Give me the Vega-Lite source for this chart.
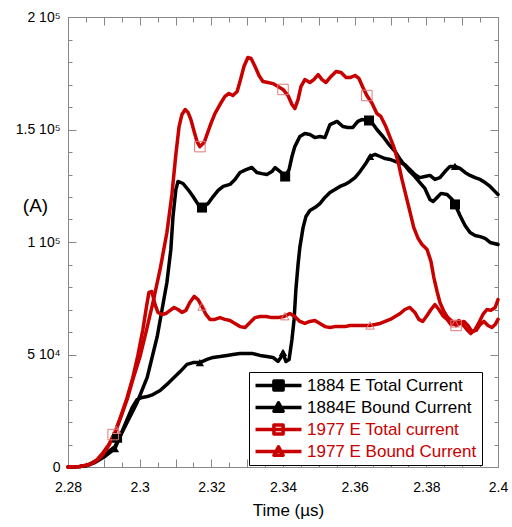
{
  "$schema": "https://vega.github.io/schema/vega-lite/v6.json",
  "autosize": "none",
  "padding": {"left": 68, "top": 17, "right": 14, "bottom": 60},
  "width": 430,
  "height": 450,
  "background": "white",
  "config": {
    "font": "Liberation Sans",
    "view": {"stroke": "#888", "strokeWidth": 1},
    "axis": {"domainColor": "#888", "tickColor": "#888", "labelColor": "black", "titleColor": "black", "grid": false}
  },
  "datasets": {
    "curves": [
      {"series": "1884 E Total Current", "t": 2.28, "current": 0},
      {"series": "1884 E Total Current", "t": 2.2833, "current": 200},
      {"series": "1884 E Total Current", "t": 2.2853, "current": 700},
      {"series": "1884 E Total Current", "t": 2.2875, "current": 2400},
      {"series": "1884 E Total Current", "t": 2.2903, "current": 5600},
      {"series": "1884 E Total Current", "t": 2.2931, "current": 9100},
      {"series": "1884 E Total Current", "t": 2.2962, "current": 18900},
      {"series": "1884 E Total Current", "t": 2.2993, "current": 28700},
      {"series": "1884 E Total Current", "t": 2.3021, "current": 39800},
      {"series": "1884 E Total Current", "t": 2.3049, "current": 58000},
      {"series": "1884 E Total Current", "t": 2.3065, "current": 72200},
      {"series": "1884 E Total Current", "t": 2.3076, "current": 82000},
      {"series": "1884 E Total Current", "t": 2.3087, "current": 96700},
      {"series": "1884 E Total Current", "t": 2.3093, "current": 111300},
      {"series": "1884 E Total Current", "t": 2.3101, "current": 123300},
      {"series": "1884 E Total Current", "t": 2.3107, "current": 126900},
      {"series": "1884 E Total Current", "t": 2.3121, "current": 126000},
      {"series": "1884 E Total Current", "t": 2.3135, "current": 123300},
      {"series": "1884 E Total Current", "t": 2.3149, "current": 120200},
      {"series": "1884 E Total Current", "t": 2.3163, "current": 116700},
      {"series": "1884 E Total Current", "t": 2.3174, "current": 115300},
      {"series": "1884 E Total Current", "t": 2.3191, "current": 117100},
      {"series": "1884 E Total Current", "t": 2.3205, "current": 120200},
      {"series": "1884 E Total Current", "t": 2.3219, "current": 122900},
      {"series": "1884 E Total Current", "t": 2.3233, "current": 124700},
      {"series": "1884 E Total Current", "t": 2.3252, "current": 125600},
      {"series": "1884 E Total Current", "t": 2.3266, "current": 127800},
      {"series": "1884 E Total Current", "t": 2.328, "current": 130900},
      {"series": "1884 E Total Current", "t": 2.3297, "current": 132200},
      {"series": "1884 E Total Current", "t": 2.3313, "current": 133100},
      {"series": "1884 E Total Current", "t": 2.3327, "current": 130900},
      {"series": "1884 E Total Current", "t": 2.3341, "current": 130400},
      {"series": "1884 E Total Current", "t": 2.3355, "current": 130000},
      {"series": "1884 E Total Current", "t": 2.3369, "current": 131300},
      {"series": "1884 E Total Current", "t": 2.3378, "current": 133100},
      {"series": "1884 E Total Current", "t": 2.3392, "current": 131300},
      {"series": "1884 E Total Current", "t": 2.3406, "current": 129100},
      {"series": "1884 E Total Current", "t": 2.3417, "current": 132200},
      {"series": "1884 E Total Current", "t": 2.3425, "current": 138000},
      {"series": "1884 E Total Current", "t": 2.3433, "current": 142400},
      {"series": "1884 E Total Current", "t": 2.3447, "current": 146900},
      {"series": "1884 E Total Current", "t": 2.3461, "current": 148200},
      {"series": "1884 E Total Current", "t": 2.3475, "current": 147800},
      {"series": "1884 E Total Current", "t": 2.3489, "current": 146400},
      {"series": "1884 E Total Current", "t": 2.3503, "current": 146900},
      {"series": "1884 E Total Current", "t": 2.3517, "current": 146400},
      {"series": "1884 E Total Current", "t": 2.3531, "current": 152200},
      {"series": "1884 E Total Current", "t": 2.3551, "current": 153600},
      {"series": "1884 E Total Current", "t": 2.3567, "current": 151300},
      {"series": "1884 E Total Current", "t": 2.3581, "current": 150900},
      {"series": "1884 E Total Current", "t": 2.3595, "current": 150900},
      {"series": "1884 E Total Current", "t": 2.3609, "current": 153600},
      {"series": "1884 E Total Current", "t": 2.362, "current": 154400},
      {"series": "1884 E Total Current", "t": 2.3637, "current": 154000},
      {"series": "1884 E Total Current", "t": 2.3648, "current": 153100},
      {"series": "1884 E Total Current", "t": 2.3662, "current": 150000},
      {"series": "1884 E Total Current", "t": 2.3679, "current": 146900},
      {"series": "1884 E Total Current", "t": 2.3696, "current": 143300},
      {"series": "1884 E Total Current", "t": 2.3713, "current": 140200},
      {"series": "1884 E Total Current", "t": 2.3727, "current": 136700},
      {"series": "1884 E Total Current", "t": 2.374, "current": 134000},
      {"series": "1884 E Total Current", "t": 2.3754, "current": 131300},
      {"series": "1884 E Total Current", "t": 2.3768, "current": 129100},
      {"series": "1884 E Total Current", "t": 2.3782, "current": 126400},
      {"series": "1884 E Total Current", "t": 2.3796, "current": 123800},
      {"series": "1884 E Total Current", "t": 2.381, "current": 118900},
      {"series": "1884 E Total Current", "t": 2.3819, "current": 118000},
      {"series": "1884 E Total Current", "t": 2.383, "current": 119800},
      {"series": "1884 E Total Current", "t": 2.3841, "current": 121600},
      {"series": "1884 E Total Current", "t": 2.3858, "current": 121100},
      {"series": "1884 E Total Current", "t": 2.3872, "current": 118900},
      {"series": "1884 E Total Current", "t": 2.388, "current": 116700},
      {"series": "1884 E Total Current", "t": 2.3894, "current": 111800},
      {"series": "1884 E Total Current", "t": 2.3908, "current": 107300},
      {"series": "1884 E Total Current", "t": 2.3922, "current": 104200},
      {"series": "1884 E Total Current", "t": 2.3936, "current": 102900},
      {"series": "1884 E Total Current", "t": 2.395, "current": 102400},
      {"series": "1884 E Total Current", "t": 2.3964, "current": 101600},
      {"series": "1884 E Total Current", "t": 2.3978, "current": 99800},
      {"series": "1884 E Total Current", "t": 2.4, "current": 98900},

      {"series": "1884E Bound Current", "t": 2.28, "current": 0},
      {"series": "1884E Bound Current", "t": 2.2833, "current": 200},
      {"series": "1884E Bound Current", "t": 2.2853, "current": 700},
      {"series": "1884E Bound Current", "t": 2.2875, "current": 2000},
      {"series": "1884E Bound Current", "t": 2.2903, "current": 4700},
      {"series": "1884E Bound Current", "t": 2.2931, "current": 8200},
      {"series": "1884E Bound Current", "t": 2.2951, "current": 15800},
      {"series": "1884E Bound Current", "t": 2.2965, "current": 21100},
      {"series": "1884E Bound Current", "t": 2.2979, "current": 26400},
      {"series": "1884E Bound Current", "t": 2.2993, "current": 30000},
      {"series": "1884E Bound Current", "t": 2.3007, "current": 30900},
      {"series": "1884E Bound Current", "t": 2.3021, "current": 31300},
      {"series": "1884E Bound Current", "t": 2.3037, "current": 32200},
      {"series": "1884E Bound Current", "t": 2.3057, "current": 34000},
      {"series": "1884E Bound Current", "t": 2.3076, "current": 36700},
      {"series": "1884E Bound Current", "t": 2.3093, "current": 39300},
      {"series": "1884E Bound Current", "t": 2.3113, "current": 42400},
      {"series": "1884E Bound Current", "t": 2.3132, "current": 45600},
      {"series": "1884E Bound Current", "t": 2.3149, "current": 46400},
      {"series": "1884E Bound Current", "t": 2.3168, "current": 46400},
      {"series": "1884E Bound Current", "t": 2.3188, "current": 47800},
      {"series": "1884E Bound Current", "t": 2.3205, "current": 48700},
      {"series": "1884E Bound Current", "t": 2.3224, "current": 49100},
      {"series": "1884E Bound Current", "t": 2.3244, "current": 49600},
      {"series": "1884E Bound Current", "t": 2.326, "current": 50000},
      {"series": "1884E Bound Current", "t": 2.328, "current": 50400},
      {"series": "1884E Bound Current", "t": 2.3299, "current": 50400},
      {"series": "1884E Bound Current", "t": 2.3316, "current": 50400},
      {"series": "1884E Bound Current", "t": 2.3336, "current": 49600},
      {"series": "1884E Bound Current", "t": 2.3355, "current": 49100},
      {"series": "1884E Bound Current", "t": 2.3372, "current": 48700},
      {"series": "1884E Bound Current", "t": 2.3386, "current": 46900},
      {"series": "1884E Bound Current", "t": 2.3394, "current": 48700},
      {"series": "1884E Bound Current", "t": 2.34, "current": 50900},
      {"series": "1884E Bound Current", "t": 2.3408, "current": 46900},
      {"series": "1884E Bound Current", "t": 2.3417, "current": 47800},
      {"series": "1884E Bound Current", "t": 2.3425, "current": 56700},
      {"series": "1884E Bound Current", "t": 2.3431, "current": 65600},
      {"series": "1884E Bound Current", "t": 2.3436, "current": 78900},
      {"series": "1884E Bound Current", "t": 2.3442, "current": 90000},
      {"series": "1884E Bound Current", "t": 2.3447, "current": 97600},
      {"series": "1884E Bound Current", "t": 2.3456, "current": 106400},
      {"series": "1884E Bound Current", "t": 2.3464, "current": 111300},
      {"series": "1884E Bound Current", "t": 2.3475, "current": 114000},
      {"series": "1884E Bound Current", "t": 2.3489, "current": 115300},
      {"series": "1884E Bound Current", "t": 2.3503, "current": 117100},
      {"series": "1884E Bound Current", "t": 2.3517, "current": 119800},
      {"series": "1884E Bound Current", "t": 2.3531, "current": 122000},
      {"series": "1884E Bound Current", "t": 2.3545, "current": 123300},
      {"series": "1884E Bound Current", "t": 2.3559, "current": 124700},
      {"series": "1884E Bound Current", "t": 2.3573, "current": 125600},
      {"series": "1884E Bound Current", "t": 2.3587, "current": 126900},
      {"series": "1884E Bound Current", "t": 2.3601, "current": 128600},
      {"series": "1884E Bound Current", "t": 2.3615, "current": 131300},
      {"series": "1884E Bound Current", "t": 2.3629, "current": 134400},
      {"series": "1884E Bound Current", "t": 2.3643, "current": 138000},
      {"series": "1884E Bound Current", "t": 2.3657, "current": 138900},
      {"series": "1884E Bound Current", "t": 2.3671, "current": 138000},
      {"series": "1884E Bound Current", "t": 2.3685, "current": 137100},
      {"series": "1884E Bound Current", "t": 2.3699, "current": 136700},
      {"series": "1884E Bound Current", "t": 2.3713, "current": 135800},
      {"series": "1884E Bound Current", "t": 2.3727, "current": 135300},
      {"series": "1884E Bound Current", "t": 2.374, "current": 134400},
      {"series": "1884E Bound Current", "t": 2.3754, "current": 132200},
      {"series": "1884E Bound Current", "t": 2.3768, "current": 130000},
      {"series": "1884E Bound Current", "t": 2.3782, "current": 128600},
      {"series": "1884E Bound Current", "t": 2.3796, "current": 129100},
      {"series": "1884E Bound Current", "t": 2.381, "current": 129600},
      {"series": "1884E Bound Current", "t": 2.3824, "current": 127800},
      {"series": "1884E Bound Current", "t": 2.3838, "current": 128600},
      {"series": "1884E Bound Current", "t": 2.3852, "current": 131300},
      {"series": "1884E Bound Current", "t": 2.3866, "current": 133600},
      {"series": "1884E Bound Current", "t": 2.388, "current": 133600},
      {"series": "1884E Bound Current", "t": 2.3894, "current": 132700},
      {"series": "1884E Bound Current", "t": 2.3908, "current": 130900},
      {"series": "1884E Bound Current", "t": 2.3922, "current": 129600},
      {"series": "1884E Bound Current", "t": 2.3936, "current": 128600},
      {"series": "1884E Bound Current", "t": 2.395, "current": 127800},
      {"series": "1884E Bound Current", "t": 2.3964, "current": 126400},
      {"series": "1884E Bound Current", "t": 2.3978, "current": 124700},
      {"series": "1884E Bound Current", "t": 2.3992, "current": 122400},
      {"series": "1884E Bound Current", "t": 2.4, "current": 121100},

      {"series": "1977 E Total current", "t": 2.28, "current": 0},
      {"series": "1977 E Total current", "t": 2.2833, "current": 200},
      {"series": "1977 E Total current", "t": 2.2861, "current": 1100},
      {"series": "1977 E Total current", "t": 2.2881, "current": 3300},
      {"series": "1977 E Total current", "t": 2.2898, "current": 6400},
      {"series": "1977 E Total current", "t": 2.2914, "current": 10000},
      {"series": "1977 E Total current", "t": 2.2931, "current": 15300},
      {"series": "1977 E Total current", "t": 2.2948, "current": 22400},
      {"series": "1977 E Total current", "t": 2.2965, "current": 30000},
      {"series": "1977 E Total current", "t": 2.2981, "current": 38900},
      {"series": "1977 E Total current", "t": 2.3001, "current": 49100},
      {"series": "1977 E Total current", "t": 2.3018, "current": 60200},
      {"series": "1977 E Total current", "t": 2.3037, "current": 73100},
      {"series": "1977 E Total current", "t": 2.3057, "current": 87800},
      {"series": "1977 E Total current", "t": 2.3076, "current": 104200},
      {"series": "1977 E Total current", "t": 2.309, "current": 121100},
      {"series": "1977 E Total current", "t": 2.3101, "current": 138900},
      {"series": "1977 E Total current", "t": 2.311, "current": 151300},
      {"series": "1977 E Total current", "t": 2.3118, "current": 156700},
      {"series": "1977 E Total current", "t": 2.3127, "current": 158900},
      {"series": "1977 E Total current", "t": 2.3135, "current": 157600},
      {"series": "1977 E Total current", "t": 2.3143, "current": 154400},
      {"series": "1977 E Total current", "t": 2.3152, "current": 149100},
      {"series": "1977 E Total current", "t": 2.316, "current": 144700},
      {"series": "1977 E Total current", "t": 2.3168, "current": 142400},
      {"series": "1977 E Total current", "t": 2.318, "current": 144200},
      {"series": "1977 E Total current", "t": 2.3188, "current": 147800},
      {"series": "1977 E Total current", "t": 2.3199, "current": 152700},
      {"series": "1977 E Total current", "t": 2.321, "current": 157100},
      {"series": "1977 E Total current", "t": 2.3224, "current": 161100},
      {"series": "1977 E Total current", "t": 2.3238, "current": 164700},
      {"series": "1977 E Total current", "t": 2.3249, "current": 166000},
      {"series": "1977 E Total current", "t": 2.326, "current": 165100},
      {"series": "1977 E Total current", "t": 2.3272, "current": 166900},
      {"series": "1977 E Total current", "t": 2.328, "current": 171300},
      {"series": "1977 E Total current", "t": 2.3291, "current": 178000},
      {"series": "1977 E Total current", "t": 2.3302, "current": 182000},
      {"series": "1977 E Total current", "t": 2.3311, "current": 181600},
      {"series": "1977 E Total current", "t": 2.3322, "current": 178000},
      {"series": "1977 E Total current", "t": 2.3333, "current": 174000},
      {"series": "1977 E Total current", "t": 2.3344, "current": 171300},
      {"series": "1977 E Total current", "t": 2.3358, "current": 170900},
      {"series": "1977 E Total current", "t": 2.3372, "current": 170400},
      {"series": "1977 E Total current", "t": 2.3386, "current": 169100},
      {"series": "1977 E Total current", "t": 2.34, "current": 167800},
      {"series": "1977 E Total current", "t": 2.3414, "current": 165100},
      {"series": "1977 E Total current", "t": 2.3425, "current": 161100},
      {"series": "1977 E Total current", "t": 2.3433, "current": 159300},
      {"series": "1977 E Total current", "t": 2.3442, "current": 163300},
      {"series": "1977 E Total current", "t": 2.345, "current": 169100},
      {"series": "1977 E Total current", "t": 2.3461, "current": 172200},
      {"series": "1977 E Total current", "t": 2.3475, "current": 170900},
      {"series": "1977 E Total current", "t": 2.3486, "current": 172200},
      {"series": "1977 E Total current", "t": 2.3498, "current": 174400},
      {"series": "1977 E Total current", "t": 2.3509, "current": 172200},
      {"series": "1977 E Total current", "t": 2.352, "current": 170900},
      {"series": "1977 E Total current", "t": 2.3534, "current": 173600},
      {"series": "1977 E Total current", "t": 2.3548, "current": 175800},
      {"series": "1977 E Total current", "t": 2.3562, "current": 175300},
      {"series": "1977 E Total current", "t": 2.3576, "current": 173100},
      {"series": "1977 E Total current", "t": 2.3587, "current": 173100},
      {"series": "1977 E Total current", "t": 2.3601, "current": 174000},
      {"series": "1977 E Total current", "t": 2.3612, "current": 172700},
      {"series": "1977 E Total current", "t": 2.3623, "current": 168700},
      {"series": "1977 E Total current", "t": 2.3634, "current": 165100},
      {"series": "1977 E Total current", "t": 2.3648, "current": 161800},
      {"series": "1977 E Total current", "t": 2.3662, "current": 157100},
      {"series": "1977 E Total current", "t": 2.3673, "current": 155800},
      {"series": "1977 E Total current", "t": 2.3687, "current": 151300},
      {"series": "1977 E Total current", "t": 2.3699, "current": 146400},
      {"series": "1977 E Total current", "t": 2.371, "current": 141900},
      {"series": "1977 E Total current", "t": 2.3721, "current": 135800},
      {"series": "1977 E Total current", "t": 2.3732, "current": 127800},
      {"series": "1977 E Total current", "t": 2.3743, "current": 120700},
      {"series": "1977 E Total current", "t": 2.3754, "current": 113600},
      {"series": "1977 E Total current", "t": 2.3765, "current": 106400},
      {"series": "1977 E Total current", "t": 2.3777, "current": 101600},
      {"series": "1977 E Total current", "t": 2.3788, "current": 98900},
      {"series": "1977 E Total current", "t": 2.3802, "current": 96700},
      {"series": "1977 E Total current", "t": 2.3813, "current": 91300},
      {"series": "1977 E Total current", "t": 2.3821, "current": 84200},
      {"series": "1977 E Total current", "t": 2.383, "current": 78000},
      {"series": "1977 E Total current", "t": 2.3838, "current": 73100},
      {"series": "1977 E Total current", "t": 2.3849, "current": 69100},
      {"series": "1977 E Total current", "t": 2.386, "current": 66400},
      {"series": "1977 E Total current", "t": 2.3872, "current": 64700},
      {"series": "1977 E Total current", "t": 2.3883, "current": 62900},
      {"series": "1977 E Total current", "t": 2.3894, "current": 63800},
      {"series": "1977 E Total current", "t": 2.3905, "current": 64700},
      {"series": "1977 E Total current", "t": 2.3916, "current": 62900},
      {"series": "1977 E Total current", "t": 2.3927, "current": 60200},
      {"series": "1977 E Total current", "t": 2.3939, "current": 60700},
      {"series": "1977 E Total current", "t": 2.395, "current": 63300},
      {"series": "1977 E Total current", "t": 2.3961, "current": 64700},
      {"series": "1977 E Total current", "t": 2.3972, "current": 62900},
      {"series": "1977 E Total current", "t": 2.3983, "current": 62000},
      {"series": "1977 E Total current", "t": 2.3992, "current": 63300},
      {"series": "1977 E Total current", "t": 2.4, "current": 65600},

      {"series": "1977 E Bound Current", "t": 2.28, "current": 0},
      {"series": "1977 E Bound Current", "t": 2.2833, "current": 200},
      {"series": "1977 E Bound Current", "t": 2.2861, "current": 1100},
      {"series": "1977 E Bound Current", "t": 2.2881, "current": 2900},
      {"series": "1977 E Bound Current", "t": 2.2898, "current": 5600},
      {"series": "1977 E Bound Current", "t": 2.2914, "current": 9600},
      {"series": "1977 E Bound Current", "t": 2.2931, "current": 15300},
      {"series": "1977 E Bound Current", "t": 2.2948, "current": 22900},
      {"series": "1977 E Bound Current", "t": 2.2965, "current": 30900},
      {"series": "1977 E Bound Current", "t": 2.2981, "current": 39800},
      {"series": "1977 E Bound Current", "t": 2.2995, "current": 49600},
      {"series": "1977 E Bound Current", "t": 2.3009, "current": 61100},
      {"series": "1977 E Bound Current", "t": 2.302, "current": 72200},
      {"series": "1977 E Bound Current", "t": 2.3026, "current": 77600},
      {"series": "1977 E Bound Current", "t": 2.3034, "current": 78000},
      {"series": "1977 E Bound Current", "t": 2.3043, "current": 72200},
      {"series": "1977 E Bound Current", "t": 2.3051, "current": 68700},
      {"series": "1977 E Bound Current", "t": 2.3062, "current": 67800},
      {"series": "1977 E Bound Current", "t": 2.3073, "current": 68200},
      {"series": "1977 E Bound Current", "t": 2.3085, "current": 69600},
      {"series": "1977 E Bound Current", "t": 2.3096, "current": 70900},
      {"series": "1977 E Bound Current", "t": 2.3107, "current": 70000},
      {"series": "1977 E Bound Current", "t": 2.3118, "current": 68700},
      {"series": "1977 E Bound Current", "t": 2.3129, "current": 69600},
      {"series": "1977 E Bound Current", "t": 2.314, "current": 73100},
      {"series": "1977 E Bound Current", "t": 2.3152, "current": 75800},
      {"series": "1977 E Bound Current", "t": 2.3163, "current": 74400},
      {"series": "1977 E Bound Current", "t": 2.3174, "current": 71300},
      {"series": "1977 E Bound Current", "t": 2.3185, "current": 67800},
      {"series": "1977 E Bound Current", "t": 2.3196, "current": 65600},
      {"series": "1977 E Bound Current", "t": 2.321, "current": 65600},
      {"series": "1977 E Bound Current", "t": 2.3224, "current": 66400},
      {"series": "1977 E Bound Current", "t": 2.3238, "current": 65600},
      {"series": "1977 E Bound Current", "t": 2.3252, "current": 65100},
      {"series": "1977 E Bound Current", "t": 2.3266, "current": 63800},
      {"series": "1977 E Bound Current", "t": 2.328, "current": 62400},
      {"series": "1977 E Bound Current", "t": 2.3294, "current": 62000},
      {"series": "1977 E Bound Current", "t": 2.3308, "current": 64200},
      {"series": "1977 E Bound Current", "t": 2.3322, "current": 66400},
      {"series": "1977 E Bound Current", "t": 2.3336, "current": 66900},
      {"series": "1977 E Bound Current", "t": 2.3353, "current": 66900},
      {"series": "1977 E Bound Current", "t": 2.3369, "current": 66400},
      {"series": "1977 E Bound Current", "t": 2.3386, "current": 66400},
      {"series": "1977 E Bound Current", "t": 2.3403, "current": 66900},
      {"series": "1977 E Bound Current", "t": 2.3419, "current": 68200},
      {"series": "1977 E Bound Current", "t": 2.3433, "current": 66900},
      {"series": "1977 E Bound Current", "t": 2.3447, "current": 64700},
      {"series": "1977 E Bound Current", "t": 2.3461, "current": 63800},
      {"series": "1977 E Bound Current", "t": 2.3475, "current": 64700},
      {"series": "1977 E Bound Current", "t": 2.3489, "current": 65100},
      {"series": "1977 E Bound Current", "t": 2.3503, "current": 63800},
      {"series": "1977 E Bound Current", "t": 2.3517, "current": 62400},
      {"series": "1977 E Bound Current", "t": 2.3531, "current": 62000},
      {"series": "1977 E Bound Current", "t": 2.3545, "current": 62400},
      {"series": "1977 E Bound Current", "t": 2.3559, "current": 62400},
      {"series": "1977 E Bound Current", "t": 2.3573, "current": 62400},
      {"series": "1977 E Bound Current", "t": 2.3587, "current": 62900},
      {"series": "1977 E Bound Current", "t": 2.3601, "current": 62900},
      {"series": "1977 E Bound Current", "t": 2.3615, "current": 62900},
      {"series": "1977 E Bound Current", "t": 2.3629, "current": 62900},
      {"series": "1977 E Bound Current", "t": 2.3643, "current": 62900},
      {"series": "1977 E Bound Current", "t": 2.3657, "current": 63300},
      {"series": "1977 E Bound Current", "t": 2.3671, "current": 63800},
      {"series": "1977 E Bound Current", "t": 2.3685, "current": 64700},
      {"series": "1977 E Bound Current", "t": 2.3699, "current": 65600},
      {"series": "1977 E Bound Current", "t": 2.3713, "current": 66900},
      {"series": "1977 E Bound Current", "t": 2.3727, "current": 68200},
      {"series": "1977 E Bound Current", "t": 2.374, "current": 70000},
      {"series": "1977 E Bound Current", "t": 2.3754, "current": 70900},
      {"series": "1977 E Bound Current", "t": 2.3768, "current": 68700},
      {"series": "1977 E Bound Current", "t": 2.3779, "current": 65600},
      {"series": "1977 E Bound Current", "t": 2.379, "current": 64700},
      {"series": "1977 E Bound Current", "t": 2.3802, "current": 67300},
      {"series": "1977 E Bound Current", "t": 2.3813, "current": 70000},
      {"series": "1977 E Bound Current", "t": 2.3824, "current": 72200},
      {"series": "1977 E Bound Current", "t": 2.3835, "current": 70000},
      {"series": "1977 E Bound Current", "t": 2.3846, "current": 67300},
      {"series": "1977 E Bound Current", "t": 2.3858, "current": 65600},
      {"series": "1977 E Bound Current", "t": 2.3869, "current": 63300},
      {"series": "1977 E Bound Current", "t": 2.388, "current": 63800},
      {"series": "1977 E Bound Current", "t": 2.3891, "current": 65100},
      {"series": "1977 E Bound Current", "t": 2.3902, "current": 63300},
      {"series": "1977 E Bound Current", "t": 2.3913, "current": 61100},
      {"series": "1977 E Bound Current", "t": 2.3924, "current": 59300},
      {"series": "1977 E Bound Current", "t": 2.3936, "current": 61100},
      {"series": "1977 E Bound Current", "t": 2.3947, "current": 64200},
      {"series": "1977 E Bound Current", "t": 2.3958, "current": 67800},
      {"series": "1977 E Bound Current", "t": 2.3969, "current": 70000},
      {"series": "1977 E Bound Current", "t": 2.398, "current": 69600},
      {"series": "1977 E Bound Current", "t": 2.3992, "current": 70900},
      {"series": "1977 E Bound Current", "t": 2.4, "current": 74400}
    ],
    "markers": [
      {"series": "1884 E Total Current", "t": 2.2937, "current": 13000},
      {"series": "1884 E Total Current", "t": 2.3174, "current": 115300},
      {"series": "1884 E Total Current", "t": 2.3406, "current": 129100},
      {"series": "1884 E Total Current", "t": 2.364, "current": 154000},
      {"series": "1884 E Total Current", "t": 2.388, "current": 116700},
      {"series": "1884E Bound Current", "t": 2.2931, "current": 8200},
      {"series": "1884E Bound Current", "t": 2.3168, "current": 46400},
      {"series": "1884E Bound Current", "t": 2.34, "current": 50900},
      {"series": "1884E Bound Current", "t": 2.3643, "current": 138000},
      {"series": "1884E Bound Current", "t": 2.388, "current": 133600},
      {"series": "1977 E Total current", "t": 2.2926, "current": 14400},
      {"series": "1977 E Total current", "t": 2.3168, "current": 142400},
      {"series": "1977 E Total current", "t": 2.34, "current": 167800},
      {"series": "1977 E Total current", "t": 2.3634, "current": 165100},
      {"series": "1977 E Total current", "t": 2.3883, "current": 62900},
      {"series": "1977 E Bound Current", "t": 2.2935, "current": 16500},
      {"series": "1977 E Bound Current", "t": 2.3174, "current": 71300},
      {"series": "1977 E Bound Current", "t": 2.3405, "current": 67000},
      {"series": "1977 E Bound Current", "t": 2.3643, "current": 62900},
      {"series": "1977 E Bound Current", "t": 2.388, "current": 63800}
    ]
  },
  "resolve": {"axis": {"x": "independent", "y": "independent"}},
  "layer": [
    {
      "data": {"name": "curves"},
      "mark": {"type": "line", "strokeWidth": 3.5, "strokeJoin": "round", "strokeCap": "round"},
      "encoding": {
        "x": {
          "field": "t", "type": "quantitative",
          "scale": {"domain": [2.28, 2.4], "nice": false, "zero": false},
          "axis": {
            "orient": "bottom",
            "values": [2.28, 2.285, 2.29, 2.295, 2.3, 2.305, 2.31, 2.315, 2.32, 2.325, 2.33, 2.335, 2.34, 2.345, 2.35, 2.355, 2.36, 2.365, 2.37, 2.375, 2.38, 2.385, 2.39, 2.395, 2.4],
            "labelExpr": "round(datum.value*1000) % 20 === 0 ? format(datum.value, '~g') : ''",
            "tickSize": {"condition": {"test": "round(datum.value*1000) % 10 === 0", "value": -8}, "value": -5},
            "labelFontSize": 14,
            "labelPadding": 21,
            "labelFlush": false,
            "labelOverlap": false,
            "title": "Time (µs)",
            "titleFontSize": 17,
            "titleFontWeight": "normal",
            "titleX": 220,
            "titleY": 43,
            "titleAlign": "center",
            "titleBaseline": "middle"
          }
        },
        "y": {
          "field": "current", "type": "quantitative",
          "scale": {"domain": [0, 200000], "nice": false},
          "axis": {
            "orient": "left",
            "values": [0, 10000, 20000, 30000, 40000, 50000, 60000, 70000, 80000, 90000, 100000, 110000, 120000, 130000, 140000, 150000, 160000, 170000, 180000, 190000, 200000],
            "labelExpr": "datum.value === 0 ? '0' : datum.value === 50000 ? '5 10⁴' : datum.value === 100000 ? '1 10⁵' : datum.value === 150000 ? '1.5 10⁵' : datum.value === 200000 ? '2 10⁵' : ''",
            "tickSize": {"condition": {"test": "datum.value % 50000 === 0", "value": -8}, "value": -4},
            "labelFontSize": 14,
            "labelPadding": 16,
            "labelFlush": false,
            "labelOverlap": false,
            "title": "(A)",
            "titleAngle": 0,
            "titleFontSize": 19,
            "titleFontWeight": "normal",
            "titleX": -33,
            "titleY": 188,
            "titleAlign": "center",
            "titleBaseline": "middle"
          }
        },
        "color": {
          "field": "series", "type": "nominal",
          "scale": {
            "domain": ["1884 E Total Current", "1884E Bound Current", "1977 E Total current", "1977 E Bound Current"],
            "range": ["#000000", "#000000", "#c80000", "#c80000"]
          },
          "legend": {
            "title": null,
            "orient": "none",
            "legendX": 181,
            "legendY": 355,
            "fillColor": "white",
            "strokeColor": "black",
            "padding": 5,
            "labelFontSize": 17,
            "labelLimit": 300,
            "symbolSize": 132,
            "symbolStrokeWidth": 3.5,
            "symbolOffset": 16,
            "labelOffset": 20,
            "rowPadding": 4,
            "encode": {
              "symbols": {
                "update": {
                  "shape": {"signal": "indexof(datum.value, 'Total') >= 0 ? 'M-4,0H4M-0.8,-0.8H0.8V0.8H-0.8Z' : 'M-4,0H4M0,-0.8L0.8,0.65H-0.8Z'"},
                  "fill": {"signal": "indexof(datum.value, '1884') === 0 ? 'black' : 'transparent'"},
                  "stroke": {"signal": "indexof(datum.value, '1884') === 0 ? 'black' : '#c80000'"},
                  "strokeWidth": {"value": 3.5},
                  "strokeJoin": {"value": "round"},
                  "size": {"value": 132}
                }
              },
              "labels": {
                "update": {
                  "fill": {"signal": "indexof(datum.value, '1977') === 0 ? '#c80000' : 'black'"}
                }
              }
            }
          }
        }
      }
    },
    {
      "data": {"name": "markers"},
      "transform": [{"filter": "datum.series === '1884 E Total Current'"}],
      "mark": {"type": "point", "shape": "square", "filled": true, "color": "black", "size": 100, "opacity": 1},
      "encoding": {
        "x": {
          "field": "t", "type": "quantitative",
          "axis": {
            "orient": "top",
            "values": [2.28, 2.285, 2.29, 2.295, 2.3, 2.305, 2.31, 2.315, 2.32, 2.325, 2.33, 2.335, 2.34, 2.345, 2.35, 2.355, 2.36, 2.365, 2.37, 2.375, 2.38, 2.385, 2.39, 2.395, 2.4],
            "labels": false,
            "title": null,
            "tickSize": {"condition": {"test": "round(datum.value*1000) % 10 === 0", "value": -8}, "value": -5}
          }
        },
        "y": {
          "field": "current", "type": "quantitative",
          "axis": {
            "orient": "right",
            "values": [0, 10000, 20000, 30000, 40000, 50000, 60000, 70000, 80000, 90000, 100000, 110000, 120000, 130000, 140000, 150000, 160000, 170000, 180000, 190000, 200000],
            "labels": false,
            "title": null,
            "tickSize": {"condition": {"test": "datum.value % 50000 === 0", "value": -8}, "value": -4}
          }
        }
      }
    },
    {
      "data": {"name": "markers"},
      "transform": [{"filter": "datum.series === '1884E Bound Current'"}],
      "mark": {"type": "point", "shape": "triangle-up", "filled": true, "color": "black", "size": 70, "opacity": 1},
      "encoding": {
        "x": {"field": "t", "type": "quantitative", "axis": null},
        "y": {"field": "current", "type": "quantitative", "axis": null}
      }
    },
    {
      "data": {"name": "markers"},
      "transform": [{"filter": "datum.series === '1977 E Total current'"}],
      "mark": {"type": "point", "shape": "square", "filled": false, "color": "#e07878", "strokeWidth": 1, "size": 110, "opacity": 1},
      "encoding": {
        "x": {"field": "t", "type": "quantitative", "axis": null},
        "y": {"field": "current", "type": "quantitative", "axis": null}
      }
    },
    {
      "data": {"name": "markers"},
      "transform": [{"filter": "datum.series === '1977 E Bound Current'"}],
      "mark": {"type": "point", "shape": "triangle-up", "filled": false, "color": "#e07878", "strokeWidth": 1, "size": 70, "opacity": 1},
      "encoding": {
        "x": {"field": "t", "type": "quantitative", "axis": null},
        "y": {"field": "current", "type": "quantitative", "axis": null}
      }
    }
  ]
}
